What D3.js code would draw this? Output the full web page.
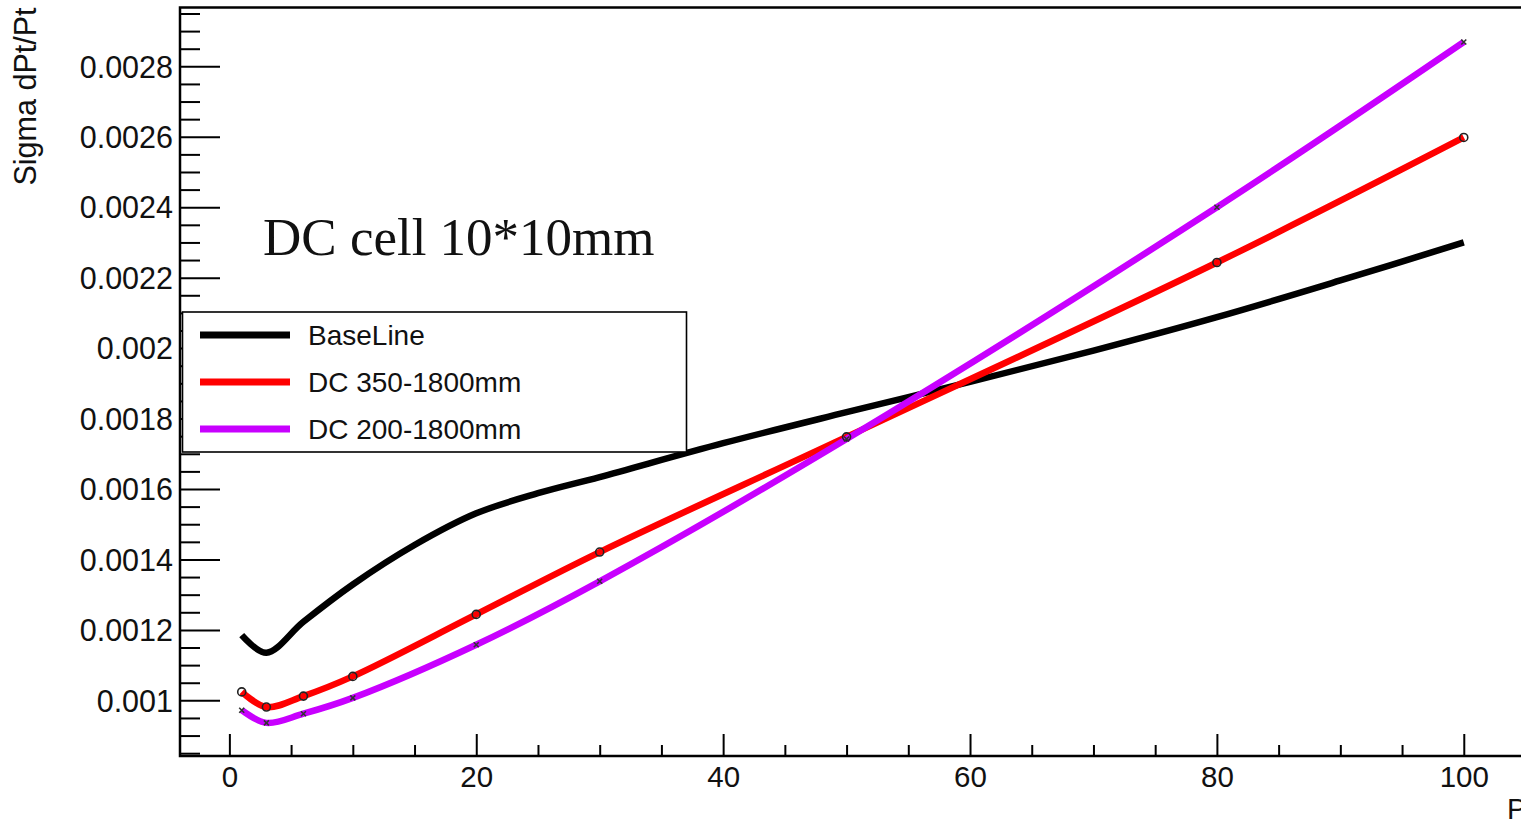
<!DOCTYPE html>
<html>
<head>
<meta charset="utf-8">
<script src="https://cdn.jsdelivr.net/npm/d3@7"></script>
<style>
  html, body { margin: 0; padding: 0; background: #fff; }
  svg { display: block; }
  text { font-family: "Liberation Sans", Arial, sans-serif; fill: #111; }
</style>
</head>
<body>
<svg id="chart" width="1521" height="820"></svg>
<script>
// ---- Data ----
const pValues = [1, 3, 6, 10, 20, 30, 50, 80, 100];
const dc350 = [0.001024, 0.000981, 0.001012, 0.001068, 0.001244, 0.001421, 0.001748, 0.002243, 0.002598];
const dc200 = [0.000972, 0.000936, 0.000962, 0.001007, 0.001158, 0.001338, 0.001742, 0.002400, 0.002869];
const baselineP = [1, 3, 6, 10, 15, 20, 25, 30, 40, 50, 60, 70, 80, 90, 100];
const baseline = [0.001185, 0.001135, 0.001223, 0.001329, 0.001441, 0.001531, 0.001588, 0.001634, 0.001730, 0.001818, 0.001904, 0.001993, 0.002088, 0.002192, 0.002300];
const xMajorTicks = [0, 20, 40, 60, 80, 100];
const yMajorTicks = [0.001, 0.0012, 0.0014, 0.0016, 0.0018, 0.002, 0.0022, 0.0024, 0.0026, 0.0028];
const seriesNames = ["BaseLine", "DC 350-1800mm", "DC 200-1800mm"];
const seriesColors = ["#000000", "#ff0000", "#c800ff"];
const annotation = "DC cell 10*10mm";
const yTitle = "Sigma dPt/Pt";
const xTitle = "Pt";

(function () {
// ---- Layout ----
const svg = d3.select("#chart");
const pLeft = 180, pRight = 1525.5, pTop = 7.5, pBottom = 756;
const x = d3.scaleLinear().domain([-4, 105]).range([pLeft, pRight]);
const y = d3.scaleLinear().domain([0.000842, 0.002967]).range([pBottom, pTop]);

svg.append("defs").append("clipPath").attr("id", "plotclip")
  .append("rect").attr("x", pLeft).attr("y", pTop).attr("width", pRight - pLeft).attr("height", pBottom - pTop);

// ---- Curves ----
const line = d3.line().x(d => x(d[0])).y(d => y(d[1])).curve(d3.curveCatmullRom.alpha(0.5));
const gPlot = svg.append("g").attr("clip-path", "url(#plotclip)");
const baseData = baselineP.map((p, i) => [p, baseline[i]]);
const redData = pValues.map((p, i) => [p, dc350[i]]);
const purData = pValues.map((p, i) => [p, dc200[i]]);

gPlot.append("path").datum(baseData).attr("d", line)
  .attr("fill", "none").attr("stroke", seriesColors[0]).attr("stroke-width", 6.5);
gPlot.append("path").datum(redData).attr("d", line)
  .attr("fill", "none").attr("stroke", seriesColors[1]).attr("stroke-width", 6.5);
gPlot.append("path").datum(purData).attr("d", line)
  .attr("fill", "none").attr("stroke", seriesColors[2]).attr("stroke-width", 6.5);

// markers
gPlot.selectAll("circle.m").data(redData).join("circle")
  .attr("cx", d => x(d[0])).attr("cy", d => y(d[1])).attr("r", 4)
  .attr("fill", "none").attr("stroke", "#222").attr("stroke-width", 1.6);
const xm = 2.5;
gPlot.selectAll("path.xm").data(purData).join("path")
  .attr("d", d => {
    const cx = x(d[0]), cy = y(d[1]);
    return `M${cx - xm},${cy - xm}L${cx + xm},${cy + xm}M${cx - xm},${cy + xm}L${cx + xm},${cy - xm}`;
  })
  .attr("stroke", "#333").attr("stroke-width", 1.6).attr("fill", "none");

// ---- Axes ----
const axisY = d3.axisLeft(y).tickValues(yMajorTicks).tickSize(-40).tickPadding(0)
  .tickFormat(d => String(+d.toFixed(4)));
const gy = svg.append("g").attr("transform", `translate(${pLeft},0)`).call(axisY);
gy.select(".domain").remove();
gy.selectAll(".tick line").attr("stroke", "#000").attr("stroke-width", 2);
gy.selectAll(".tick text").attr("x", -7).attr("dy", "0.35em")
  .style("font-size", "30.5px").style("font-family", "'Liberation Sans', Arial, sans-serif").attr("fill", "#111");

const yMinor = d3.range(0.00085, 0.00296, 0.00005).filter(v => !yMajorTicks.some(t => Math.abs(t - v) < 1e-9));
const axisYm = d3.axisLeft(y).tickValues(yMinor).tickSize(-20).tickFormat("");
const gym = svg.append("g").attr("transform", `translate(${pLeft},0)`).call(axisYm);
gym.select(".domain").remove();
gym.selectAll(".tick line").attr("stroke", "#000").attr("stroke-width", 2);

const axisX = d3.axisBottom(x).tickValues(xMajorTicks).tickSize(-22).tickPadding(0);
const gx = svg.append("g").attr("transform", `translate(0,${pBottom})`).call(axisX);
gx.select(".domain").remove();
gx.selectAll(".tick line").attr("stroke", "#000").attr("stroke-width", 2);
gx.selectAll(".tick text").attr("y", 31).attr("dy", 0)
  .style("font-size", "29.5px").style("font-family", "'Liberation Sans', Arial, sans-serif").attr("fill", "#111");

const xMinor = d3.range(5, 105, 5).filter(v => v % 20 !== 0);
const axisXm = d3.axisBottom(x).tickValues(xMinor).tickSize(-11).tickFormat("");
const gxm = svg.append("g").attr("transform", `translate(0,${pBottom})`).call(axisXm);
gxm.select(".domain").remove();
gxm.selectAll(".tick line").attr("stroke", "#000").attr("stroke-width", 2);

// frame
svg.append("path").attr("d", `M${pRight},${pTop}H${pLeft}V${pBottom}H${pRight}`)
  .attr("fill", "none").attr("stroke", "#000").attr("stroke-width", 2.5);

// axis titles
svg.append("text").attr("transform", `translate(36,${pTop}) rotate(-90)`)
  .attr("text-anchor", "end").style("font-size", "30.5px").text(yTitle);
svg.append("text").attr("x", 1507).attr("y", 819)
  .attr("text-anchor", "start").style("font-size", "29px").text(xTitle);

// annotation
svg.append("text").attr("x", 263).attr("y", 255)
  .style("font-family", "'Liberation Serif', 'Times New Roman', serif").style("font-size", "53px")
  .attr("fill", "#222").text(annotation);

// ---- Legend ----
const lg = svg.append("g");
lg.append("rect").attr("x", 182.5).attr("y", 312).attr("width", 504).attr("height", 140)
  .attr("fill", "#fff").attr("stroke", "#000").attr("stroke-width", 1.6);
const rowsY = [335, 382, 429];
seriesNames.forEach((name, i) => {
  lg.append("line").attr("x1", 200).attr("x2", 290).attr("y1", rowsY[i]).attr("y2", rowsY[i])
    .attr("stroke", seriesColors[i]).attr("stroke-width", 7);
  lg.append("text").attr("x", 308).attr("y", rowsY[i]).attr("dy", "0.35em")
    .style("font-size", "28px").text(name);
});
})();
</script>
</body>
</html>
